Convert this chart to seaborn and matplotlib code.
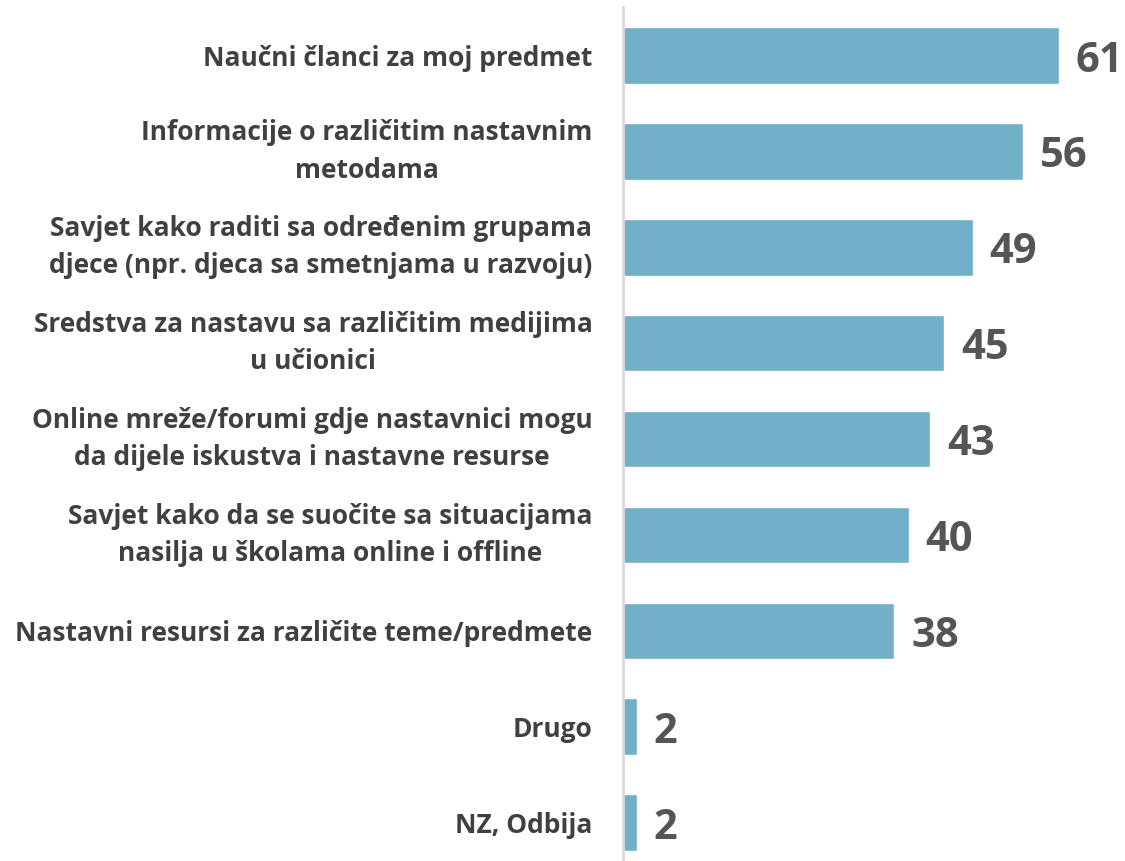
import matplotlib
matplotlib.use("Agg")
import matplotlib.pyplot as plt
import seaborn as sns
import pandas as pd

categories = [
    "Naučni članci za moj predmet",
    "Informacije o različitim nastavnim\nmetodama",
    "Savjet kako raditi sa određenim grupama\ndjece (npr. djeca sa smetnjama u razvoju)",
    "Sredstva za nastavu sa različitim medijima\nu učionici",
    "Online mreže/forumi gdje nastavnici mogu\nda dijele iskustva i nastavne resurse",
    "Savjet kako da se suočite sa situacijama\nnasilja u školama online i offline",
    "Nastavni resursi za različite teme/predmete",
    "Drugo",
    "NZ, Odbija",
]
values = [61, 56, 49, 45, 43, 40, 38, 2, 2]

BAR_COLOR = "#71B0C8"
LABEL_COLOR = "#404040"
VALUE_COLOR = "#555555"

sns.set_style("white")
plt.rcParams["font.family"] = ["Open Sans", "DejaVu Sans"]

df = pd.DataFrame({"category": categories, "value": values})

fig = plt.figure(figsize=(11.25, 8.61), dpi=100)
ax = fig.add_axes([623 / 1125, 0.0, 500 / 1125, 853.5 / 861])

sns.barplot(data=df, x="value", y="category", orient="h", color=BAR_COLOR,
            width=0.59, saturation=1, ax=ax)

ax.set_xlim(0, 70)
ax.set_ylim(8.4, -0.5)
ax.set_xlabel("")
ax.set_ylabel("")
ax.set_xticks([])

for side in ["top", "right", "bottom"]:
    ax.spines[side].set_visible(False)
ax.spines["left"].set_color("#d9d9d9")
ax.spines["left"].set_linewidth(2)

ax.tick_params(axis="y", length=0, pad=22)
for lbl in ax.get_yticklabels():
    lbl.set_fontsize(19)
    lbl.set_fontweight("bold")
    lbl.set_color(LABEL_COLOR)
    lbl.set_multialignment("center")
    lbl.set_linespacing(1.5)
    if "\n" in lbl.get_text():
        lbl.set_verticalalignment("center")

texts = ax.bar_label(ax.containers[0], labels=[str(v) for v in values], padding=12,
                     fontsize=30, fontweight="bold", color=VALUE_COLOR)
for t in texts:
    t.xyann = (12, -4)

fig.savefig("out.png", dpi=100)
